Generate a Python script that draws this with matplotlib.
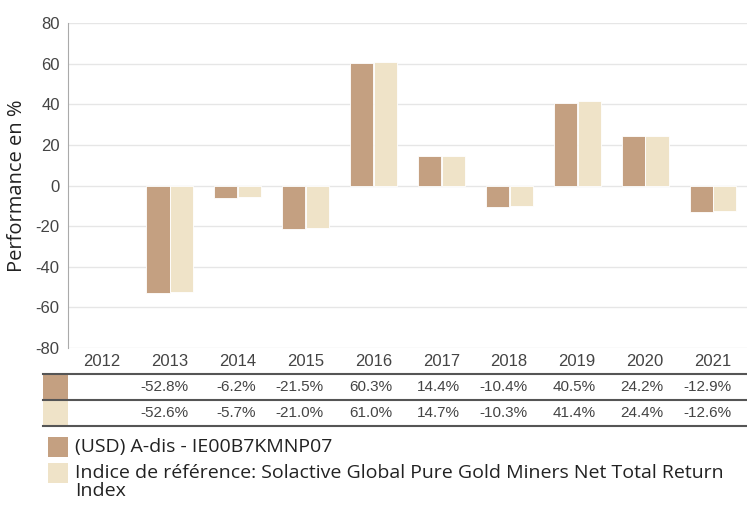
import numpy as np
import matplotlib.pyplot as plt
from matplotlib.lines import Line2D
from matplotlib.patches import Rectangle

years = ['2012', '2013', '2014', '2015', '2016', '2017', '2018', '2019', '2020', '2021']
fund = [np.nan, -52.8, -6.2, -21.5, 60.3, 14.4, -10.4, 40.5, 24.2, -12.9]
bench = [np.nan, -52.6, -5.7, -21.0, 61.0, 14.7, -10.3, 41.4, 24.4, -12.6]
fund_label = '(USD) A-dis - IE00B7KMNP07'
bench_label = 'Indice de référence: Solactive Global Pure Gold Miners Net Total Return\nIndex'

c_fund = '#c4a081'
c_bench = '#efe3c8'
txt = '#444444'
ui_font = ['Open Sans', 'DejaVu Sans']
plt.rcParams['axes.unicode_minus'] = False

fig = plt.figure(figsize=(7.47, 5.05), dpi=100)
W, H = 747, 505
ax = fig.add_axes([68 / W, 1 - 348 / H, 679 / W, 325 / H])

x = np.arange(len(years))
w = 0.34
ax.bar(x - w / 2 - 0.005, fund, w, color=c_fund, edgecolor='white', linewidth=0.6)
ax.bar(x + w / 2 + 0.005, bench, w, color=c_bench, edgecolor='white', linewidth=0.6)

ax.set_xlim(-0.5, len(years) - 0.5)
ax.set_ylim(-80, 80)
ax.set_yticks(np.arange(-80, 81, 20))
ax.yaxis.grid(True, color='#e6e6e6', linewidth=1)
ax.set_axisbelow(True)
ax.tick_params(axis='y', length=0, labelsize=12, labelcolor=txt, pad=6)
ax.set_xticks([])
for s in ['top', 'right', 'bottom']:
    ax.spines[s].set_visible(False)
ax.spines['left'].set_color('#aaaaaa')
ax.set_ylabel('Performance en %', fontsize=14.5, family=ui_font, color='#222222', labelpad=6)
for lbl in ax.get_yticklabels():
    lbl.set_family('Liberation Sans')

# table below the chart
def fy(py):
    return 1 - py / H

tr = ax.get_xaxis_transform()
to_ax = lambda py: (fy(py) - (1 - 348 / H)) / (325 / H)
for i, yr in enumerate(years):
    ax.text(i + 0.27, to_ax(361), yr, transform=tr, ha='right', va='center',
            fontsize=12, color=txt, family='Liberation Sans', clip_on=False)
    if not np.isnan(fund[i]):
        ax.text(i + 0.27, to_ax(387), f'{fund[i]:.1f}%', transform=tr, ha='right', va='center',
                fontsize=11, color=txt, family='Liberation Sans', clip_on=False)
    if not np.isnan(bench[i]):
        ax.text(i + 0.27, to_ax(413), f'{bench[i]:.1f}%', transform=tr, ha='right', va='center',
                fontsize=11, color=txt, family='Liberation Sans', clip_on=False)

for py in [374, 400, 426]:
    fig.add_artist(Line2D([43 / W, 1], [fy(py), fy(py)], color='#555555', linewidth=1.5))
fig.add_artist(Rectangle((43 / W, fy(399)), 25 / W, 24 / H, color=c_fund, linewidth=0))
fig.add_artist(Rectangle((43 / W, fy(425)), 25 / W, 24 / H, color=c_bench, linewidth=0))

# legend
fig.add_artist(Rectangle((48 / W, fy(457)), 20 / W, 20 / H, color=c_fund, linewidth=0))
fig.add_artist(Rectangle((48 / W, fy(483)), 20 / W, 20 / H, color=c_bench, linewidth=0))
fig.text(75 / W, fy(447), fund_label, ha='left', va='center', fontsize=14,
         color='#222222', family=ui_font)
fig.text(75 / W, fy(464), bench_label, ha='left', va='top', fontsize=14,
         color='#222222', family=ui_font, linespacing=1.0)

fig.savefig('out.png', dpi=100)
